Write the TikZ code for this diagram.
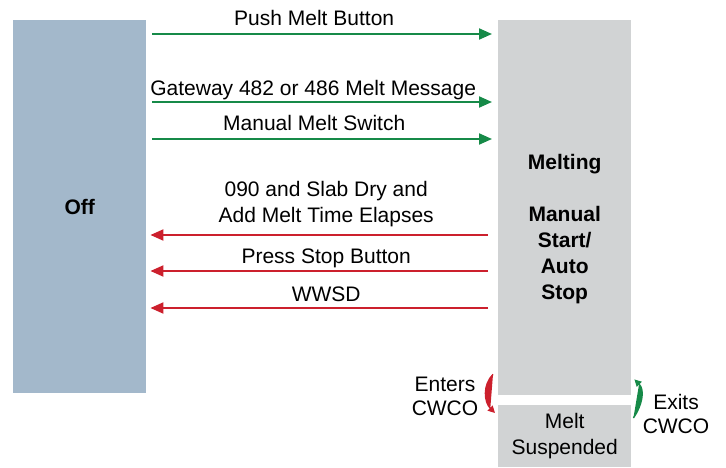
\documentclass[tikz,border=0pt]{standalone}
\usepackage{fontspec}
\setmainfont{Liberation Sans}
\usetikzlibrary{
  arrows.meta,
  positioning,
  calc
}
\definecolor{OffBlue}{RGB}{163,184,203}
\definecolor{StateGray}{RGB}{209,211,212}
\definecolor{GoGreen}{RGB}{22,138,72}
\definecolor{StopRed}{RGB}{204,32,45}
\tikzset{
  offstate/.style={fill=OffBlue,minimum width=133pt,minimum height=373pt,inner sep=0pt,anchor=north west},
  meltstate/.style={fill=StateGray,minimum width=133pt,minimum height=375pt,inner sep=0pt,anchor=north west},
  suspstate/.style={fill=StateGray,minimum width=133pt,minimum height=62pt,inner sep=0pt,anchor=north west,align=center,font=\fontsize{21}{26}\selectfont},
  statetext/.style={align=center,font=\bfseries\fontsize{21}{26}\selectfont},
  evtext/.style={align=center,inner sep=0pt,text height=15pt,text depth=4pt,font=\fontsize{21}{26}\selectfont},
  cwcotext/.style={align=center,inner sep=0pt,font=\fontsize{21}{24}\selectfont},
  gotrans/.style={-{Triangle[length=13pt,width=11pt]},line width=2pt,draw=GoGreen},
  stoptrans/.style={-{Triangle[length=13pt,width=11pt]},line width=2pt,draw=StopRed},
  cwcoarrow/.style={-{Triangle[length=7pt,width=7pt]},line width=1.4pt}
}
\begin{document}
\begin{tikzpicture}[x=1pt,y=1pt]
\useasboundingbox (0,0) rectangle (726,467);
\node[offstate] (off) at (13,447) {};
\node[meltstate] (melt) at (498,447) {};
\node[suspstate] (susp) at (498,62) {Melt\\Suspended};
\node[statetext] at (off.center) {Off};
\node[statetext] at ([yshift=-21.5pt]melt.center) {Melting\\[26pt]Manual\\Start/\\Auto\\Stop};
% to melting
\draw[gotrans] ([xshift=6pt]off.east |- 0,433) -- node[evtext,above=3pt,xshift=-8pt]{Push Melt Button} ([xshift=-6pt]melt.west |- 0,433);
\draw[gotrans] ([xshift=6pt]off.east |- 0,365) -- node[evtext,above=1pt,xshift=-9pt]{Gateway 482 or 486 Melt Message} ([xshift=-6pt]melt.west |- 0,365);
\draw[gotrans] ([xshift=6pt]off.east |- 0,328) -- node[evtext,above=3pt,xshift=-8pt]{Manual Melt Switch} ([xshift=-6pt]melt.west |- 0,328);
% back to off
\draw[stoptrans] ([xshift=-10pt]melt.west |- 0,232) -- node[evtext,above=7.5pt,xshift=7pt]{090 and Slab Dry and\\Add Melt Time Elapses} ([xshift=4pt]off.east |- 0,232);
\draw[stoptrans] ([xshift=-10pt]melt.west |- 0,196) -- node[evtext,above=2.5pt,xshift=7pt]{Press Stop Button} ([xshift=4pt]off.east |- 0,196);
\draw[stoptrans] ([xshift=-10pt]melt.west |- 0,159) -- node[evtext,above=1.5pt,xshift=7pt]{WWSD} ([xshift=4pt]off.east |- 0,159);
% cwco
\draw[cwcoarrow,draw=StopRed,fill=StopRed] ([xshift=-5pt,yshift=21pt]melt.south west) to[out=225,in=135] ([xshift=-3pt,yshift=-8pt]susp.north west);
\draw[cwcoarrow,draw=GoGreen,fill=GoGreen] ([xshift=2pt,yshift=-13pt]susp.north east) to[out=55,in=-45] ([xshift=3pt,yshift=16pt]melt.south east);
\node[cwcotext] (enters) at (445,70.5) {Enters\\CWCO};
\node[cwcotext] (exits) at (676,53.5) {Exits\\CWCO};
\end{tikzpicture}
\end{document}
